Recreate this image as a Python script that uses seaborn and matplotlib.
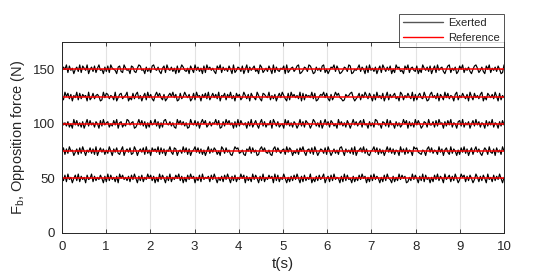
import numpy as np
import pandas as pd
import seaborn as sns
import matplotlib.pyplot as plt

# reference force levels (N)
ref_levels = [50, 75, 100, 125, 150]

# exerted force: one digit per sample, deviation from the reference = digit - 4 (N).
# The level and spread (about +-4 N) are read off the picture; the individual
# samples are too dense to read, so these digits are typed by hand to look like it.
exerted_50 = ("62718350472816350734816253740618273516084735261738"
              "40627153847260518374062815374826051738460527183546"
              "17384052617384062715384706251837406281537460827153"
              "84051627384061725380416273580461728354061827340615"
              "27384605172836405172843061528374601528374062817350"
              "51738264083571628403857162740385162740835172638405")
exerted_75 = ("37162845036172840537261804736152840637215804637128"
              "50463718250746381726054831760452837160458372615048"
              "26375140862735104867235106482735016847325106837425"
              "61837504261748305627184036527184036251784063527180"
              "45738261045837162504837261540836172540867321540683"
              "72541836057318264051738260471583620475183260735184")
exerted_100 = ("73526140837251604827351640728356142738056142873560"
               "14837260517348260517843625108473625018437260584713"
               "62548370162847350618274350628147305826143708526134"
               "08372516403826175403862517048361752408362517404836"
               "25718340625187340652817340625138470625183740265183"
               "36172845062738154067281536047283615407263815406273")
exerted_125 = ("31847260538172645081372564018376254180367245803172"
               "68250471836205847316025748360172485360271845063728"
               "14736280547163825074613852607431852076438152604738"
               "52071846352807164538270146583720614857320164578302"
               "47163852740618352704816357240861537428061573284016"
               "83527064183725406815374260841735268041753628407153")
exerted_150 = ("26481735046281753804627158340627185430672185340762"
               "15873406251784362057184362507148632507418362507184"
               "63520748163527408136527048163572408613527408163254"
               "70813562478013652874016352781403658274013652870143"
               "58264071835260471852637041856230748156327041853627"
               "04718356204781536027481536204785136207481536274018")
exerted = [exerted_50, exerted_75, exerted_100, exerted_125, exerted_150]

t = np.linspace(0, 10, len(exerted_50))

sns.set_theme(style="ticks")
plt.rcParams["font.family"] = ["Liberation Sans", "DejaVu Sans"]
plt.rcParams["mathtext.fontset"] = "custom"
plt.rcParams["mathtext.rm"] = "Liberation Sans"

fig = plt.figure(figsize=(5.5, 2.79), dpi=100)
ax = fig.add_axes([0.1127, 0.1649, 0.8037, 0.6846])

# exerted force
for lvl, s in zip(ref_levels, exerted):
    dev = np.array([int(c) for c in s]) - 4
    df = pd.DataFrame({"t": t, "F": lvl + dev})
    sns.lineplot(data=df, x="t", y="F", ax=ax, color="black", lw=0.85,
                 label="Exerted" if lvl == ref_levels[0] else None)

# reference
for lvl in ref_levels:
    df = pd.DataFrame({"t": [0, 10], "F": [lvl, lvl]})
    sns.lineplot(data=df, x="t", y="F", ax=ax, color="red", lw=1.1,
                 label="Reference" if lvl == ref_levels[0] else None)

ax.set_xlim(0, 10)
ax.set_ylim(0, 175)
ax.set_xticks(range(0, 11))
ax.set_yticks([0, 50, 100, 150])
ax.grid(axis="x", color="#e3e3e3", lw=0.8)
ax.grid(axis="y", visible=False)
ax.tick_params(direction="in", top=True, right=True, labelsize=9.5,
               colors="#262626", length=3, width=0.6)
ax.tick_params(axis="x", pad=6)
ax.tick_params(axis="y", pad=5)
for s in ax.spines.values():
    s.set_color("#262626")
    s.set_linewidth(0.7)

ax.set_xlabel("t(s)", fontsize=11, color="#262626", labelpad=3)
ax.set_ylabel(r"F$_\mathrm{b}$, Opposition force (N)", fontsize=10.5,
              color="#262626", labelpad=4)

leg = ax.legend(loc="lower right", bbox_to_anchor=(1.0, 0.974), fontsize=8,
                frameon=True, fancybox=False, borderaxespad=0,
                handlelength=3.6, handletextpad=0.4, borderpad=0.4,
                labelspacing=0.4)
leg.get_frame().set_edgecolor("#262626")
leg.get_frame().set_linewidth(0.7)
for h in leg.get_lines():
    h.set_linewidth(1.0)
leg.get_lines()[0].set_color("#555555")

fig.savefig("out.png", dpi=100)
